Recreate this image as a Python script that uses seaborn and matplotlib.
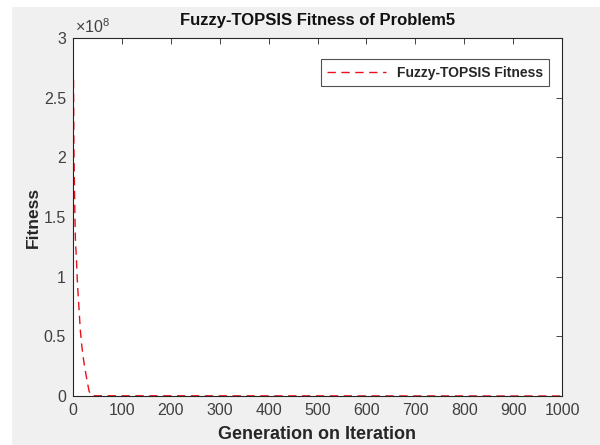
import matplotlib
matplotlib.use("Agg")
import matplotlib.pyplot as plt
import seaborn as sns
import pandas as pd
from matplotlib.patches import Rectangle
from matplotlib.ticker import FuncFormatter

# Data
generation = [1, 2, 3, 4, 5, 7, 9, 12, 15, 18, 21, 24, 27, 30, 33, 36, 40, 1000]
fitness = [2.65e8, 2.0e8, 1.75e8, 1.5e8, 1.3e8, 1.15e8, 0.95e8, 0.75e8, 0.55e8,
           0.42e8, 0.32e8, 0.24e8, 0.17e8, 0.10e8, 0.04e8, 0.01e8, 0.002e8, 0.0]
series_name = "Fuzzy-TOPSIS Fitness"
x_ticks = [0, 100, 200, 300, 400, 500, 600, 700, 800, 900, 1000]
y_ticks = [0, 0.5e8, 1e8, 1.5e8, 2e8, 2.5e8, 3e8]

sns.set_style("white")
plt.rcParams['font.family'] = ['Liberation Sans', 'DejaVu Sans']
plt.rcParams['mathtext.fontset'] = 'custom'
plt.rcParams['mathtext.rm'] = 'Liberation Sans'

df = pd.DataFrame({"Generation": generation, "Fitness": fitness})

fig = plt.figure(figsize=(6, 4.45), dpi=100, facecolor="white")
fig.patches.append(Rectangle((12 / 600, 0), 1, (445 - 7) / 445, transform=fig.transFigure,
                             facecolor="#f0f0f0", edgecolor="none", zorder=-10))
ax = fig.add_axes([73 / 600, (445 - 396) / 445, (562 - 73) / 600, (396 - 38) / 445])
ax.set_facecolor("white")

sns.lineplot(data=df, x="Generation", y="Fitness", ax=ax, color="#e8101a",
             linestyle=(0, (6, 4)), linewidth=1.0, label=series_name)

ax.set_xlim(0, 1000)
ax.set_ylim(0, 3e8)
ax.set_xticks(x_ticks)
ax.set_yticks(y_ticks)
ax.yaxis.set_major_formatter(FuncFormatter(lambda v, p: f"{v / 1e8:g}"))
ax.text(0.005, 1.005, r"$\times10^{8}$", transform=ax.transAxes, fontsize=11.5,
        color="#404040", ha="left", va="bottom")

for s in ax.spines.values():
    s.set_visible(True)
    s.set_color("#262626")
    s.set_linewidth(0.8)

ax.tick_params(direction="in", length=4, width=0.6, top=True, right=True,
               labelsize=11.5, labelcolor="#404040", color="#262626", pad=5)

ax.set_title("Fuzzy-TOPSIS Fitness of Problem5", fontsize=12, fontweight="bold",
             color="#111111", pad=9)
ax.set_xlabel("Generation on Iteration", fontsize=13, fontweight="bold", color="#262626", labelpad=6)
ax.set_ylabel("Fitness", fontsize=12.5, fontweight="bold", color="#262626", labelpad=2)

leg = ax.legend(loc="upper right", fontsize=10, frameon=True, fancybox=False,
                handlelength=4.2, borderpad=0.45, bbox_to_anchor=(0.988, 0.96))
leg.get_frame().set_edgecolor("#262626")
leg.get_frame().set_linewidth(0.8)
for t in leg.get_texts():
    t.set_fontweight("bold")

fig.savefig("out.png", dpi=100, facecolor=fig.get_facecolor())
